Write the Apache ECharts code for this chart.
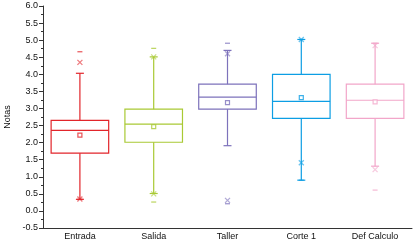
<!DOCTYPE html>
<html>
<head>
<meta charset="utf-8">
<script src="https://cdn.jsdelivr.net/npm/echarts@6/dist/echarts.min.js"></script>
<style>
  html, body { margin: 0; padding: 0; background: #fff; }
  #main { width: 413px; height: 241px; }
</style>
</head>
<body>
<div id="main"></div>
<script>
// datos
var categories = ['Entrada', 'Salida', 'Taller', 'Corte 1', 'Def Calculo'];
var colors = ['#e2252b', '#a9c934', '#7d72bb', '#0d9ee4', '#f2a6c9'];
var whiskerLow = [0.34, 0.51, 1.91, 0.90, 1.31];
var q1 = [1.69, 2.01, 2.98, 2.71, 2.71];
var median = [2.36, 2.54, 3.33, 3.21, 3.24];
var q3 = [2.65, 2.98, 3.71, 4.00, 3.71];
var whiskerHigh = [4.03, 4.51, 4.70, 5.02, 4.91];
var means = [2.22, 2.47, 3.17, 3.32, 3.19];
var pctLow = [0.35, 0.50, 0.31, 1.41, 1.21];
var pctHigh = [4.35, 4.51, 4.60, 5.02, 4.84];
var minVals = [0.34, 0.26, 0.21, 0.90, 0.61];
var maxVals = [4.66, 4.76, 4.91, 5.02, 4.91];

var xPath = 'path://M0,0L10,10M10,0L0,10';

function boxItem(params, api) {
  var i = api.value(0);
  var lo = api.coord([i, api.value(1)]);
  var b1 = api.coord([i, api.value(2)]);
  var md = api.coord([i, api.value(3)]);
  var b3 = api.coord([i, api.value(4)]);
  var hi = api.coord([i, api.value(5)]);
  var bw = api.size([1, 0])[0] * 0.78;
  var cap = 8;
  var c = colors[params.dataIndex];
  var st = { stroke: c, lineWidth: 1.2, fill: null };
  var x = lo[0];
  return {
    type: 'group',
    children: [
      { type: 'line', shape: { x1: x, y1: lo[1], x2: x, y2: b1[1] }, style: st },
      { type: 'line', shape: { x1: x, y1: b3[1], x2: x, y2: hi[1] }, style: st },
      { type: 'line', shape: { x1: x - cap / 2, y1: lo[1], x2: x + cap / 2, y2: lo[1] }, style: st },
      { type: 'line', shape: { x1: x - cap / 2, y1: hi[1], x2: x + cap / 2, y2: hi[1] }, style: st },
      { type: 'rect', shape: { x: x - bw / 2, y: b3[1], width: bw, height: b1[1] - b3[1] }, style: st },
      { type: 'line', shape: { x1: x - bw / 2, y1: md[1], x2: x + bw / 2, y2: md[1] }, style: st }
    ]
  };
}

function points(arr, style) {
  return arr.map(function (v, i) {
    var s = {};
    for (var k in style) s[k] = style[k];
    if (s.color === 'c') s.color = colors[i];
    if (s.borderColor === 'c') s.borderColor = colors[i];
    return { value: [i, v], itemStyle: s };
  });
}

var chart = echarts.init(document.getElementById('main'));
chart.setOption({
  animation: false,
  grid: { left: 43, right: 1, top: 6, bottom: 13, outerBoundsMode: 'none', containLabel: false },
  xAxis: {
    type: 'category',
    data: categories,
    axisLine: { onZero: false, lineStyle: { color: '#333' } },
    axisTick: { alignWithLabel: true, length: 3, lineStyle: { color: '#333' } },
    axisLabel: { color: '#111', fontSize: 9, fontFamily: 'Liberation Sans', margin: 4 }
  },
  yAxis: {
    type: 'value',
    min: -0.5,
    max: 6,
    interval: 0.5,
    name: 'Notas',
    nameLocation: 'middle',
    nameGap: 30,
    nameRotate: 90,
    nameTextStyle: { color: '#111', fontSize: 9, fontFamily: 'Liberation Sans' },
    splitLine: { show: false },
    axisLine: { show: true, lineStyle: { color: '#333' } },
    axisTick: { show: true, length: 4, lineStyle: { color: '#333' } },
    minorTick: { show: true, splitNumber: 2, length: 2, lineStyle: { color: '#333' } },
    axisLabel: {
      color: '#111', fontSize: 9, fontFamily: 'Liberation Sans', margin: 5,
      formatter: function (v) { return v.toFixed(1); }
    }
  },
  series: [
    {
      type: 'custom',
      renderItem: boxItem,
      data: categories.map(function (c, i) {
        return [i, whiskerLow[i], q1[i], median[i], q3[i], whiskerHigh[i]];
      }),
      z: 2
    },
    {
      type: 'scatter',
      symbol: 'rect',
      symbolSize: 4,
      data: points(means, { color: '#fff', borderColor: 'c', borderWidth: 1.2 }),
      z: 3
    },
    {
      type: 'scatter',
      symbol: xPath,
      symbolSize: 5,
      data: points(pctLow, { color: 'none', borderColor: 'c', borderWidth: 1.3, opacity: 0.6 }),
      z: 3
    },
    {
      type: 'scatter',
      symbol: xPath,
      symbolSize: 5,
      data: points(pctHigh, { color: 'none', borderColor: 'c', borderWidth: 1.3, opacity: 0.6 }),
      z: 3
    },
    {
      type: 'scatter',
      symbol: 'rect',
      symbolSize: [5, 1.2],
      data: points(minVals, { color: 'c' }),
      z: 3
    },
    {
      type: 'scatter',
      symbol: 'rect',
      symbolSize: [5, 1.2],
      data: points(maxVals, { color: 'c' }),
      z: 3
    }
  ]
});
</script>
</body>
</html>
